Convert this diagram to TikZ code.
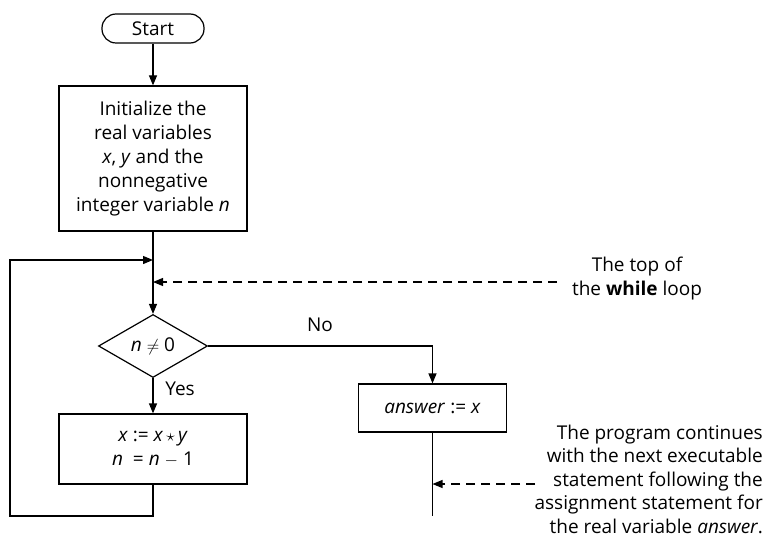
\documentclass[tikz,border=0pt]{standalone}
\usepackage{fontspec}
\setmainfont{Open Sans}
\usetikzlibrary{arrows.meta,shapes.geometric}
\tikzset{
  base/.style={font=\fontsize{19}{24}\selectfont},
  procbox/.style={base,draw,line width=1.2pt,align=center,inner sep=0pt},
  termbox/.style={base,draw,line width=1.2pt,rounded corners=14pt,inner sep=0pt,minimum width=102pt,minimum height=29pt},
  decbox/.style={base,draw,line width=1.2pt,diamond,aspect=1.73,inner sep=0pt,minimum width=109pt,minimum height=63pt},
  lbl/.style={base,inner sep=0pt},
  conn/.style={line width=1.2pt},
  arr/.style={conn,-{Triangle[length=10pt,width=8pt]}},
  darr/.style={line width=1.1pt,dash pattern=on 9pt off 6pt,-{Triangle[length=10pt,width=8pt]}},
}
\begin{document}
\begin{tikzpicture}[x=1pt,y=-1pt]
\useasboundingbox (0,0) rectangle (770,540);
\node[termbox] (start) at (153,28.5) {Start};
\node[procbox,minimum width=188pt,minimum height=145pt] (init) at (153,158.5)
  {Initialize the\\real variables\\\textit{x}, \textit{y} and the\\nonnegative\\integer variable \textit{n}};
\node[decbox] (cond) at (153,346) {\textit{n} $\neq$ 0};
\node[procbox,minimum width=188pt,minimum height=70pt] (body) at (153,449)
  {\textit{x} := \textit{x}\,$\star$\,\textit{y}\\\textit{n}\ \ = \textit{n} $-$ 1};
\node[procbox,minimum width=148pt,minimum height=48pt] (ans) at (432.5,408) {\textit{answer} := \textit{x}};
\node[lbl] (no) at (320,325) {No};
\node[lbl] (yes) at (180,389) {Yes};
\node[lbl,align=center] (topnote) at (637,279) {The top of\\the \textbf{while} loop};
\node[lbl,align=right,anchor=east,font=\fontsize{19}{23.5}\selectfont] (botnote) at (763,479)
  {The program continues\\with the next executable\\statement following the\\assignment statement for\\the real variable \textit{answer}.};
\coordinate (lp1) at (153,516);
\coordinate (lp2) at (10,516);
\coordinate (lp3) at (10,260);
\coordinate (lp4) at (153,260);
\coordinate (d1s) at (557,282);
\coordinate (d1e) at (153,282);
\coordinate (ansend) at (432.5,516);
\coordinate (d2s) at (535,484);
\coordinate (d2e) at (432.5,484);
\draw[arr] (start) -- (init);
\draw[arr] (init) -- (cond);
\draw[arr] (cond) -- (body);
\draw[arr] (cond.east) -| (ans.north);
\draw[conn] (ans.south) -- (ansend);
\draw[arr] (body.south) -- (lp1) -- (lp2) -- (lp3) -- (lp4);
\draw[darr] (d1s) -- (d1e);
\draw[darr] (d2s) -- (d2e);
\end{tikzpicture}
\end{document}
